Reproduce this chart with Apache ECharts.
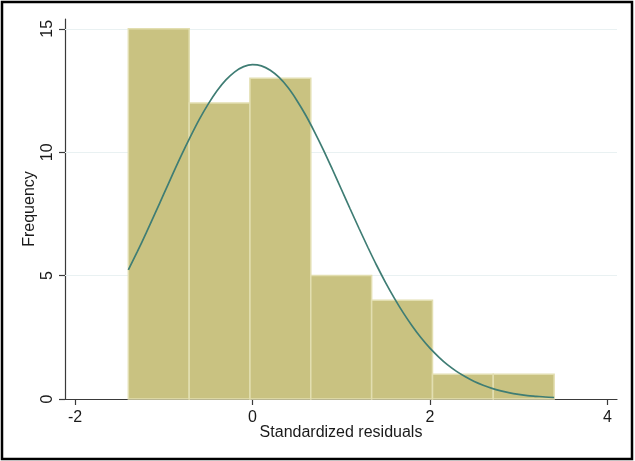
<!DOCTYPE html>
<html>
<head>
<meta charset="utf-8">
<script src="https://cdn.jsdelivr.net/npm/echarts@6/dist/echarts.min.js"></script>
<style>
  html, body { margin: 0; padding: 0; background: #fff; }
  #chart { width: 635px; height: 461px; }
</style>
</head>
<body>
<div id="chart"></div>
<script>
// Histogram bin edges and counts of the standardized residuals
const binEdges = [-1.400, -0.714, -0.029, 0.657, 1.343, 2.029, 2.714, 3.400];
const binCounts = [15, 12, 13, 5, 4, 1, 1];

// Normal density overlay (in frequency units), sampled along x
const curveX = [-1.4, -1.3, -1.2, -1.1, -1.0, -0.9, -0.8, -0.7, -0.6, -0.5, -0.4, -0.3, -0.2, -0.1,
                0.0, 0.1, 0.2, 0.3, 0.4, 0.5, 0.6, 0.7, 0.8, 0.9, 1.0, 1.1, 1.2, 1.3, 1.4,
                1.5, 1.6, 1.7, 1.8, 1.9, 2.0, 2.1, 2.2, 2.3, 2.4, 2.5, 2.6, 2.7, 2.8, 2.9,
                3.0, 3.1, 3.2, 3.3, 3.4];
const curveY = [5.23, 5.96, 6.72, 7.51, 8.31, 9.11, 9.89, 10.63, 11.33, 11.95, 12.49, 12.93, 13.26, 13.47,
                13.55, 13.50, 13.32, 13.03, 12.62, 12.10, 11.50, 10.82, 10.09, 9.31, 8.51, 7.71, 6.92, 6.15, 5.41,
                4.72, 4.08, 3.49, 2.96, 2.48, 2.06, 1.70, 1.38, 1.12, 0.90, 0.71, 0.56, 0.43, 0.33, 0.25,
                0.19, 0.14, 0.11, 0.08, 0.06];

// Axis ticks
const xTicks = [-2, 0, 2, 4];
const yTicks = [0, 5, 10, 15];
const yGridValues = [5, 10, 15];

const binData = binCounts.map((c, i) => [binEdges[i], binEdges[i + 1], c]);
const curveData = curveX.map((x, i) => [x, curveY[i]]);

const FONT = '"Liberation Sans", Arial, sans-serif';
const AXIS_COLOR = '#3a3a3a';
const chart = echarts.init(document.getElementById('chart'), null, { renderer: 'canvas' });

chart.setOption({
  animation: false,
  backgroundColor: '#ffffff',
  grid: { left: 65, top: 19, width: 552, height: 380, containLabel: false },
  xAxis: {
    type: 'value',
    min: -2.114,
    max: 4.109,
    name: 'Standardized residuals',
    nameLocation: 'middle',
    nameGap: 26,
    nameMoveOverlap: false,
    nameTextStyle: { fontFamily: FONT, fontSize: 16, color: '#1a1a1a' },
    axisLine: { show: true, onZero: false, lineStyle: { color: AXIS_COLOR, width: 1.2 } },
    axisTick: { show: true, length: 6, customValues: xTicks, lineStyle: { color: AXIS_COLOR, width: 1.2 } },
    axisLabel: {
      customValues: xTicks, margin: 11,
      fontFamily: FONT, fontSize: 16, color: '#1a1a1a',
      formatter: v => String(v)
    },
    splitLine: { show: false }
  },
  yAxis: {
    type: 'value',
    min: 0,
    max: 15.4,
    name: 'Frequency',
    nameLocation: 'middle',
    nameGap: 27,
    nameMoveOverlap: false,
    nameTextStyle: { fontFamily: FONT, fontSize: 16, color: '#1a1a1a' },
    axisLine: { show: true, onZero: false, lineStyle: { color: AXIS_COLOR, width: 1.2 } },
    axisTick: { show: true, length: 6, customValues: yTicks, lineStyle: { color: AXIS_COLOR, width: 1.2 } },
    axisLabel: {
      customValues: yTicks, rotate: 90, margin: 9,
      fontFamily: FONT, fontSize: 16, color: '#1a1a1a',
      formatter: v => String(v)
    },
    splitLine: { show: false }
  },
  series: [
    {
      // horizontal grid lines behind the bars
      type: 'line',
      data: [],
      z: 1,
      silent: true,
      markLine: {
        z: 1,
        silent: true,
        symbol: ['none', 'none'],
        label: { show: false },
        lineStyle: { color: '#e9f1f2', width: 1.2, type: 'solid' },
        data: yGridValues.map(v => ({ yAxis: v }))
      }
    },
    {
      type: 'custom',
      z: 2,
      data: binData,
      encode: { x: [0, 1], y: 2 },
      renderItem: function (params, api) {
        const p0 = api.coord([api.value(0), api.value(2)]);
        const p1 = api.coord([api.value(1), 0]);
        return {
          type: 'rect',
          shape: { x: p0[0], y: p0[1], width: p1[0] - p0[0], height: p1[1] - p0[1] },
          style: { fill: '#c9c281', stroke: '#e2deb0', lineWidth: 1.5 }
        };
      }
    },
    {
      type: 'line',
      z: 3,
      data: curveData,
      smooth: 0.3,
      symbol: 'none',
      lineStyle: { color: '#3f7d74', width: 1.7 }
    }
  ],
  graphic: [
    {
      type: 'rect',
      z: 100,
      shape: { x: 2, y: 2, width: 630, height: 457 },
      style: { fill: 'none', stroke: '#000000', lineWidth: 2.5 }
    }
  ]
});
</script>
</body>
</html>
